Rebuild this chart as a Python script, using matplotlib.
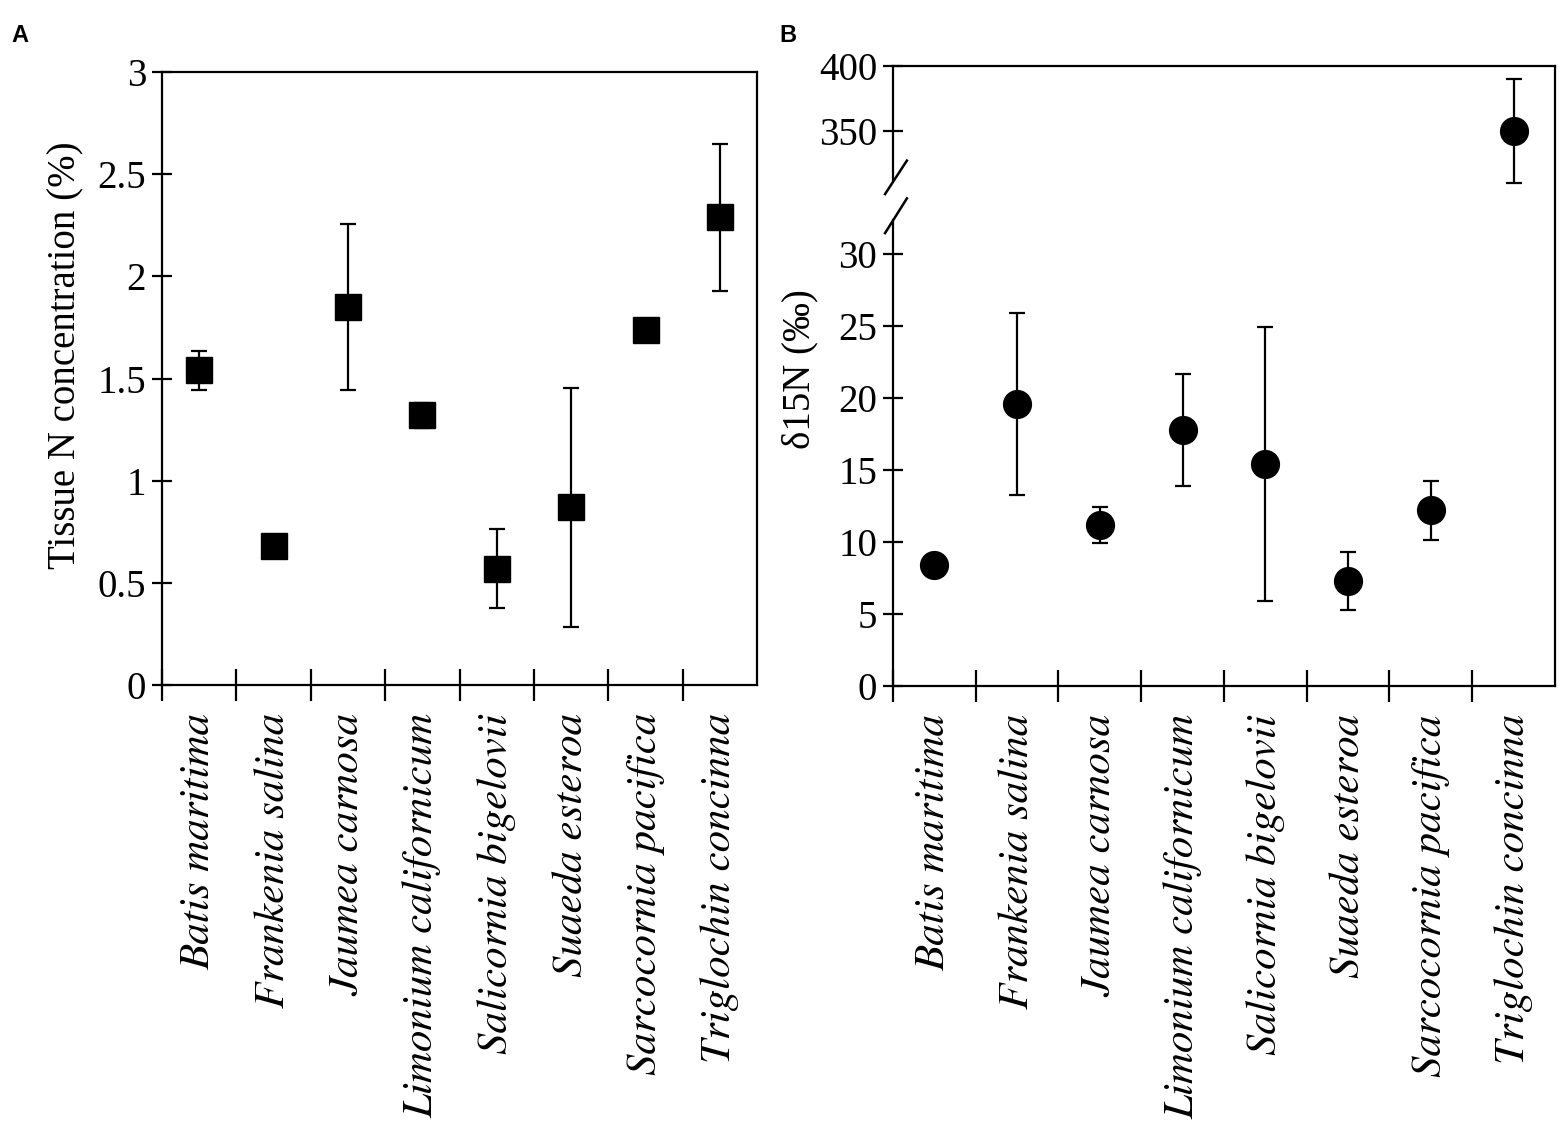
import matplotlib
matplotlib.use("Agg")
import matplotlib.pyplot as plt
import numpy as np

# Species (same order in both panels)
species = ["Batis maritima", "Frankenia salina", "Jaumea carnosa",
           "Limonium californicum", "Salicornia bigelovii", "Suaeda esteroa",
           "Sarcocornia pacifica", "Triglochin concinna"]

# Panel A: tissue N concentration (%)
tissue_n = [1.54, 0.68, 1.85, 1.32, 0.57, 0.87, 1.74, 2.29]
tissue_n_err = [0.095, 0.025, 0.405, 0.06, 0.195, 0.585, 0.02, 0.36]

# Panel B: delta 15N (per mil)
d15n = [8.4, 19.6, 11.2, 17.8, 15.4, 7.3, 12.2, 350.5]
d15n_err = [0.7, 6.3, 1.25, 3.9, 9.5, 2.0, 2.05, 40.0]

plt.rcParams["font.family"] = ["Liberation Serif", "DejaVu Serif"]

fig = plt.figure(figsize=(15.62, 11.25), dpi=100)
axA = fig.add_axes([0.1037, 0.391, 0.381, 0.545])
axB = fig.add_axes([0.5717, 0.390, 0.4238, 0.551])

x = np.arange(len(species)) + 0.5
tick_fs = 28
lab_fs = 28

for ax in (axA, axB):
    for s in ax.spines.values():
        s.set_linewidth(1.6)
    ax.set_xlim(0, 8)
    ax.set_xticks(np.arange(0, 8))
    ax.set_xticklabels([])
    ax.tick_params(axis="x", direction="inout", length=23, width=1.6)
    ax.tick_params(axis="y", direction="inout", length=15, width=1.6,
                   labelsize=tick_fs, pad=4)
    for xi, name in zip(x, species):
        ax.text(xi, -0.045, name, transform=ax.get_xaxis_transform(),
                rotation=90, ha="center", va="top", fontsize=31,
                family="STIXGeneral", style="italic")

# --- Panel A ---
axA.errorbar(x, tissue_n, yerr=tissue_n_err, fmt="s", color="black",
             markersize=19, elinewidth=1.6, capsize=6, capthick=1.6)
axA.set_ylim(0, 3)
axA.set_yticks([0, 0.5, 1, 1.5, 2, 2.5, 3])
axA.set_yticklabels(["0", "0.5", "1", "1.5", "2", "2.5", "3"])
axA.set_ylabel("Tissue N concentration (%)", fontsize=lab_fs)
axA.yaxis.set_label_coords(-0.131, 0.538)

# --- Panel B: broken y axis via piecewise scale ---
brk_v = [0, 32, 295, 400]
brk_p = [0, 460.8, 483, 619.5]


def fwd(v):
    return np.interp(v, brk_v, brk_p)


def inv(p):
    return np.interp(p, brk_p, brk_v)


axB.set_yscale("function", functions=(fwd, inv))
axB.errorbar(x, d15n, yerr=d15n_err, fmt="o", color="black",
             markersize=20, elinewidth=1.6, capsize=6, capthick=1.6)
axB.set_ylim(0, 400)
yt = [0, 5, 10, 15, 20, 25, 30, 350, 400]
axB.set_yticks(yt)
axB.set_yticklabels([str(v) for v in yt])
axB.yaxis.set_minor_locator(matplotlib.ticker.NullLocator())
axB.set_ylabel("δ15N (‰)", fontsize=lab_fs)
axB.yaxis.set_label_coords(-0.112, 0.511)

# left spine with a gap and break marks
axB.spines["left"].set_visible(False)
ytr = axB.transAxes
axB.plot([0, 0], [0, 0.752], color="black", lw=1.6, transform=ytr, clip_on=False)
axB.plot([0, 0], [0.816, 1], color="black", lw=1.6, transform=ytr, clip_on=False)
axB.plot([-0.012, 0.021], [0.794, 0.848], color="black", lw=1.8,
         transform=ytr, clip_on=False)
axB.plot([-0.012, 0.021], [0.731, 0.787], color="black", lw=1.8,
         transform=ytr, clip_on=False)

# panel letters
fig.text(0.007, 0.968, "A", fontsize=17, fontweight="bold",
         family="Liberation Sans", va="center")
fig.text(0.499, 0.968, "B", fontsize=17, fontweight="bold",
         family="Liberation Sans", va="center")

fig.savefig("out.png", dpi=100)
